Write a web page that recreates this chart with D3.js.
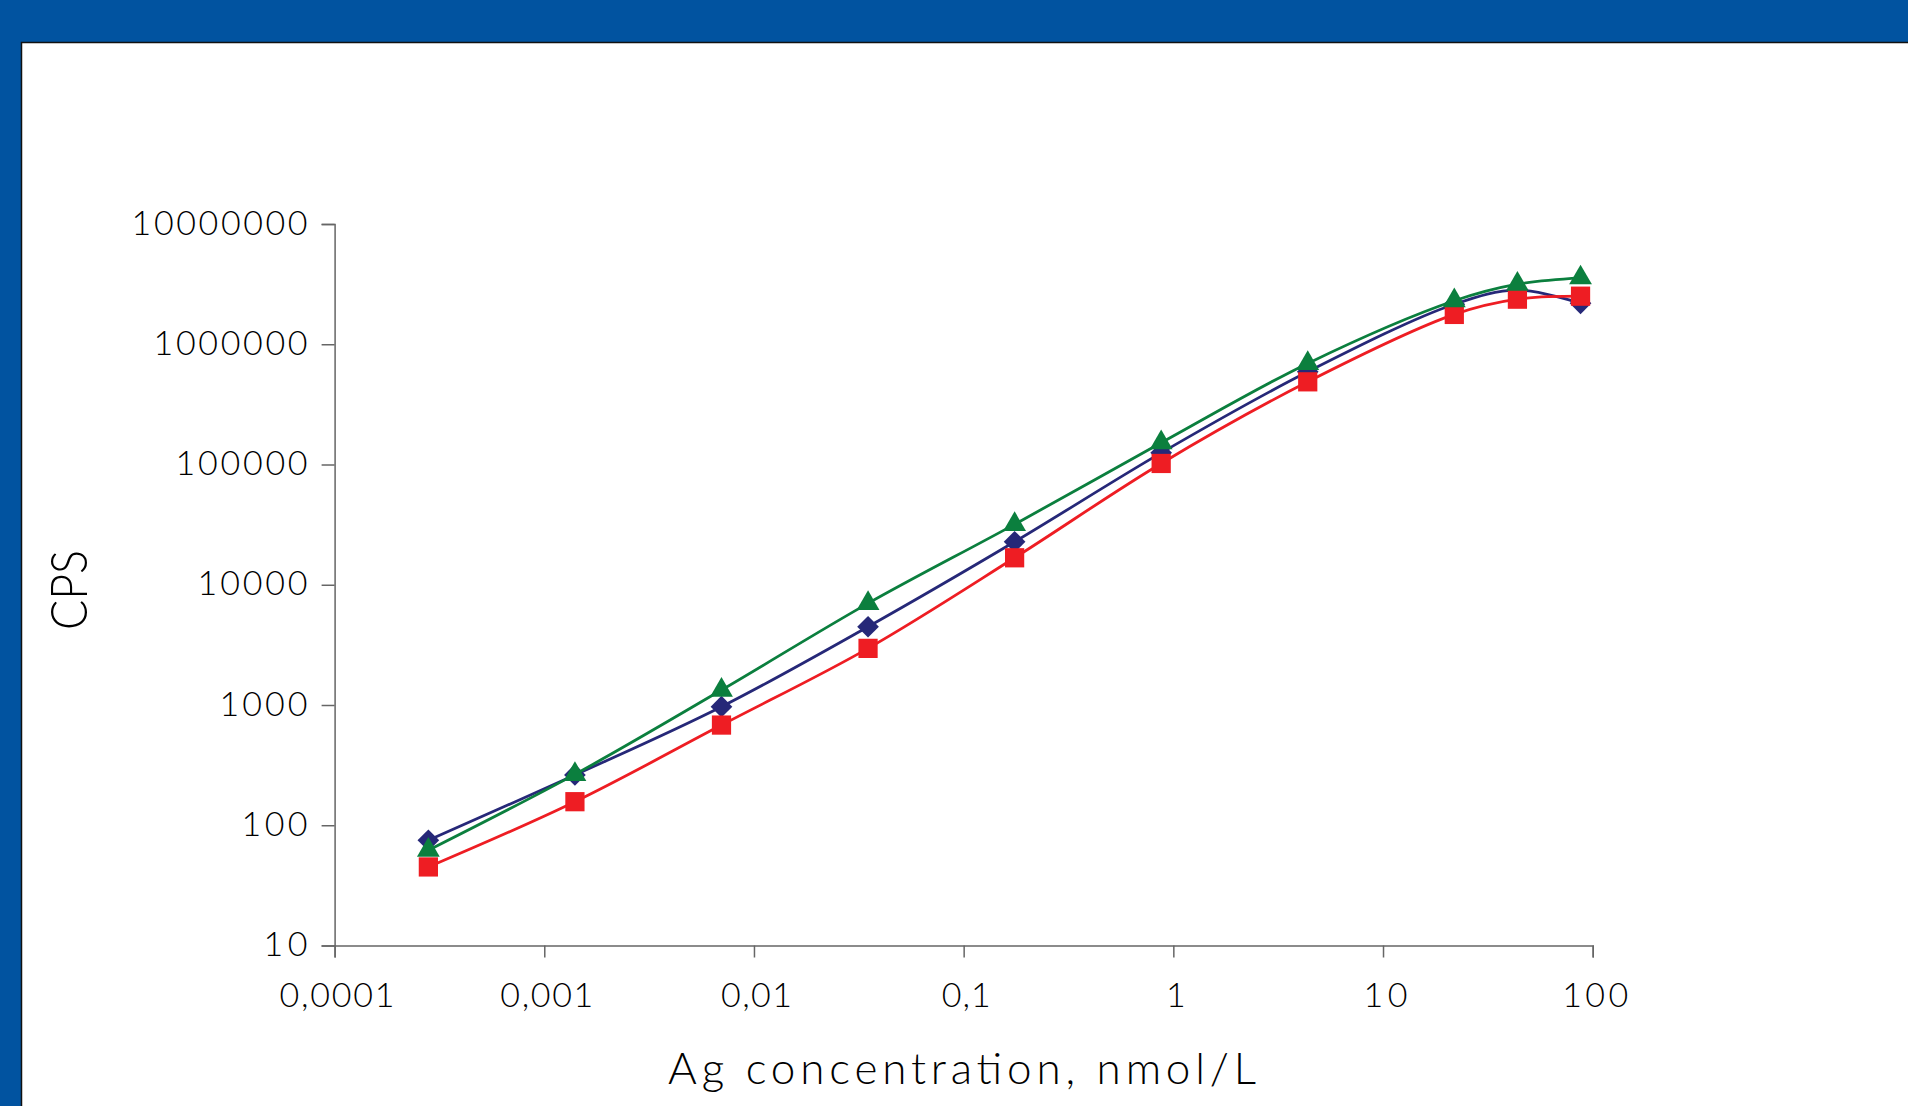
<!DOCTYPE html>
<html>
<head>
<meta charset="utf-8">
<script src="https://cdn.jsdelivr.net/npm/d3@7"></script>
<style>
  html, body { margin: 0; padding: 0; background: #0153a0; }
  svg { display: block; }
  text { font-family: Lato, "Open Sans", "DejaVu Sans", sans-serif; font-weight: 300; fill: #000; }
</style>
</head>
<body>
<script>
// ---- data ----
const concentrations = [0.00028, 0.0014, 0.007, 0.035, 0.175, 0.875, 4.375, 21.875, 43.75, 87.5];
const seriesBlue  = [75, 262, 968, 4475, 22760, 125000, 590000, 2150000, 2820000, 2190000];
const seriesRed   = [45, 157, 681, 2958, 16760, 102000, 487000, 1770000, 2370000, 2510000];
const seriesGreen = [62, 265, 1331, 7000, 31770, 151700, 693000, 2300000, 3160000, 3570000];
const yTickValues = [10, 100, 1000, 10000, 100000, 1000000, 10000000];
const yTickLabels = ["10", "100", "1000", "10000", "100000", "1000000", "10000000"];
const xTickValues = [0.0001, 0.001, 0.01, 0.1, 1, 10, 100];
const xTickLabels = ["0,0001", "0,001", "0,01", "0,1", "1", "10", "100"];
const xTitle = "Ag concentration, nmol/L";
const yTitle = "CPS";

const W = 1908, H = 1106;
const svg = d3.select("body").append("svg").attr("width", W).attr("height", H);

// frame
svg.append("rect").attr("x", 0).attr("y", 0).attr("width", W).attr("height", H).attr("fill", "#0153a0");
svg.append("rect").attr("x", 21).attr("y", 42).attr("width", W).attr("height", H).attr("fill", "#fff");
svg.append("path").attr("d", `M21.5,${H} V42.5 H${W}`).attr("fill", "none").attr("stroke", "#111").attr("stroke-width", 1.5);

const x = d3.scaleLog().domain([0.0001, 100]).range([334.6, 1592.7]);
const y = d3.scaleLog().domain([10, 10000000]).range([945.5, 224]);

function labelWidth(s) {
  let w = 0;
  for (const c of s) w += (c === ",") ? 5 : 22;
  return w;
}

// y axis
const yAxis = d3.axisLeft(y).tickValues(yTickValues).tickSize(13).tickPadding(14)
  .tickFormat((d, i) => yTickLabels[i]);
const gy = svg.append("g").attr("transform", "translate(334.6,0)").call(yAxis);
gy.select(".domain").attr("stroke", "#666").attr("stroke-width", 1.5);
gy.selectAll(".tick line").attr("stroke", "#666").attr("stroke-width", 1.5);
gy.selectAll(".tick text")
  .style("font-size", "34px")
  .attr("fill", "#000")
  .attr("dy", "0.30em")
  .each(function(d, i) {
    const s = yTickLabels[i];
    if (s.length > 1) d3.select(this).attr("textLength", labelWidth(s)).attr("lengthAdjust", "spacing");
  });

// x axis
const xAxis = d3.axisBottom(x).tickValues(xTickValues).tickSize(12).tickPadding(25)
  .tickFormat((d, i) => xTickLabels[i]);
const gx = svg.append("g").attr("transform", "translate(0,945.5)").call(xAxis);
gx.select(".domain").attr("stroke", "#666").attr("stroke-width", 1.5);
gx.selectAll(".tick line").attr("stroke", "#666").attr("stroke-width", 1.5);
gx.selectAll(".tick text")
  .style("font-size", "34px")
  .attr("fill", "#000")
  .attr("y", 0).attr("dy", 0)
  .attr("transform", "translate(2,61)")
  .each(function(d, i) {
    const s = xTickLabels[i];
    if (s.length > 1) d3.select(this).attr("textLength", labelWidth(s)).attr("lengthAdjust", "spacing");
  });

// titles
svg.append("text")
  .attr("x", 962).attr("y", 1084)
  .attr("text-anchor", "middle")
  .style("font-size", "44px")
  .attr("textLength", 588).attr("lengthAdjust", "spacing")
  .text(xTitle);

svg.append("text")
  .attr("transform", "translate(87,590) rotate(-90)")
  .attr("text-anchor", "middle")
  .style("font-size", "52px")
  .attr("textLength", 80).attr("lengthAdjust", "spacingAndGlyphs")
  .text(yTitle);

// series
const series = [
  { name: "blue",  values: seriesBlue,  color: "#262878", symbol: "diamond" },
  { name: "red",   values: seriesRed,   color: "#ee1d23", symbol: "square" },
  { name: "green", values: seriesGreen, color: "#0b7f3e", symbol: "triangle" }
];

const line = d3.line()
  .x(d => x(d[0]))
  .y(d => y(d[1]))
  .curve(d3.curveCatmullRom.alpha(0.5));

series.forEach(s => {
  const pts = concentrations.map((c, i) => [c, s.values[i]]);
  const g = svg.append("g");
  g.append("path")
    .attr("d", line(pts))
    .attr("fill", "none")
    .attr("stroke", s.color)
    .attr("stroke-width", 2.8);
  let sym;
  if (s.symbol === "diamond") sym = d3.symbol().type(d3.symbolSquare).size(235);
  else if (s.symbol === "square") sym = d3.symbol().type(d3.symbolSquare).size(370);
  else sym = d3.symbol().type(d3.symbolTriangle).size(225);
  g.selectAll("path.m")
    .data(pts)
    .enter().append("path")
    .attr("class", "m")
    .attr("d", sym())
    .attr("transform", d => `translate(${x(d[0])},${y(d[1])})` + (s.symbol === "diamond" ? " rotate(45)" : ""))
    .attr("fill", s.color);
});
</script>
</body>
</html>
